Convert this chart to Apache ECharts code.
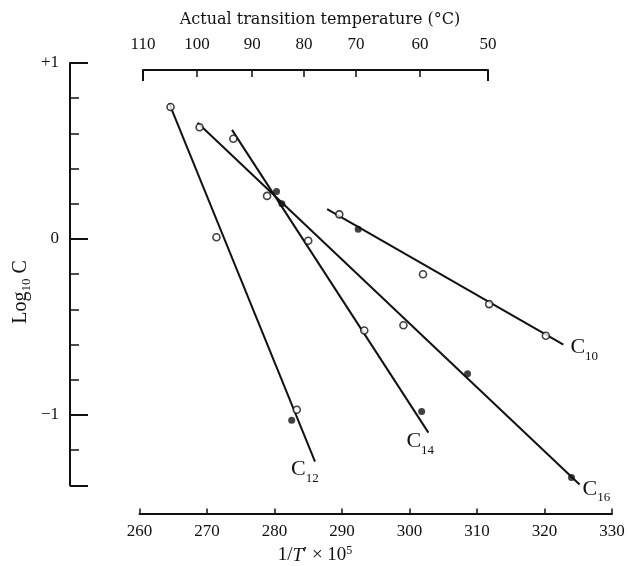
<!DOCTYPE html>
<html>
<head>
<meta charset="utf-8">
<title>Log C against 1/T'</title>
<script src="https://cdn.jsdelivr.net/npm/echarts@6/dist/echarts.min.js"></script>
<style>
  html, body { margin: 0; padding: 0; background: #fff; }
  #chart { width: 641px; height: 566px; }
</style>
</head>
<body>
<div id="chart"></div>
<script>
// x = 1/T' x 10^5, y = log10 C
var c10Open   = [[289.6, 0.14], [302.0, -0.20], [311.8, -0.37], [320.2, -0.55]];
var c10Filled = [[292.4, 0.055]];
var c10Fit    = [[287.8, 0.17], [322.8, -0.60]];

var c12Open   = [[264.6, 0.75], [271.4, 0.01], [283.3, -0.97]];
var c12Filled = [[282.55, -1.03]];
var c12Fit    = [[264.4, 0.77], [286.0, -1.265]];

var c14Open   = [[273.9, 0.57], [285.0, -0.01], [293.3, -0.52]];
var c14Filled = [[280.3, 0.27], [301.8, -0.98]];
var c14Fit    = [[273.7, 0.62], [302.8, -1.10]];

var c16Open   = [[268.9, 0.635], [278.9, 0.245], [299.1, -0.49]];
var c16Filled = [[281.1, 0.20], [308.6, -0.765], [324.0, -1.355]];
var c16Fit    = [[268.6, 0.66], [325.2, -1.395]];

// top scale: actual transition temperature, placed on the 1/T' scale
var topTempLabels = ['110', '100', '90', '80', '70', '60', '50'];
var topTempPos    = [260.5, 268.5, 276.7, 284.4, 292.1, 301.6, 311.7];

var yLabelValues = [1, 0, -1];
var yLabelText   = ['+1', '0', '\u22121'];

var serif = '"Liberation Serif", "DejaVu Serif", serif';
var wideSerif = '"DejaVu Serif", "Liberation Serif", serif';
var ink = '#111';

var chart = echarts.init(document.getElementById('chart'));

var curveRich = {
    c: { fontFamily: serif, fontSize: 22, color: ink, verticalAlign: 'bottom', padding: [0, 0, 4, 0] },
    s: { fontFamily: serif, fontSize: 13, color: ink, verticalAlign: 'bottom' }
};

function fitLine(name, data, sub, offset) {
    return {
        name: name,
        type: 'line',
        xAxisIndex: 0,
        yAxisIndex: 0,
        data: data,
        symbol: 'none',
        silent: true,
        lineStyle: { color: ink, width: 2 },
        endLabel: {
            show: true,
            formatter: '{c|C}{s|' + sub + '}',
            offset: offset,
            rich: curveRich
        },
        z: 2
    };
}

var option = {
    animation: false,
    backgroundColor: '#fff',
    grid: [
        { left: 139.5, right: 29, top: 63, bottom: 80.6 },
        { left: 143, width: 345, top: 70, height: 6 }
    ],
    xAxis: [
        {
            gridIndex: 0,
            type: 'value',
            position: 'bottom',
            min: 260,
            max: 330,
            interval: 10,
            offset: 28,
            axisLine: { onZero: false, lineStyle: { color: ink, width: 2 } },
            axisTick: { inside: true, length: 5, lineStyle: { color: ink, width: 1.5 } },
            axisLabel: { color: ink, fontFamily: serif, fontSize: 17, margin: 10 },
            splitLine: { show: false }
        },
        {
            gridIndex: 1,
            type: 'value',
            position: 'top',
            min: topTempPos[0],
            max: topTempPos[topTempPos.length - 1],
            axisLine: { onZero: false, lineStyle: { color: ink, width: 2 } },
            axisTick: {
                inside: true, length: 7, customValues: topTempPos,
                lineStyle: { color: ink, width: 1.5 }
            },
            axisLabel: {
                color: ink, fontFamily: serif, fontSize: 17, margin: 17,
                customValues: topTempPos,
                formatter: function (v) {
                    var i = topTempPos.indexOf(v);
                    return i >= 0 ? topTempLabels[i] : '';
                }
            },
            splitLine: { show: false }
        },
        {
            // longer end ticks of the top bracket
            gridIndex: 1,
            type: 'value',
            position: 'top',
            min: topTempPos[0],
            max: topTempPos[topTempPos.length - 1],
            axisLine: { show: false, onZero: false },
            axisTick: {
                inside: true, length: 11,
                customValues: [topTempPos[0], topTempPos[topTempPos.length - 1]],
                lineStyle: { color: ink, width: 2 }
            },
            axisLabel: { show: false },
            splitLine: { show: false }
        }
    ],
    yAxis: [
        {
            gridIndex: 0,
            type: 'value',
            position: 'left',
            min: -1.4,
            max: 1,
            interval: 0.2,
            offset: 69.5,
            axisLine: { show: true, onZero: false, lineStyle: { color: ink, width: 2 } },
            axisTick: { show: true, inside: true, length: 9, lineStyle: { color: ink, width: 1.5 } },
            axisLabel: {
                color: ink, fontFamily: serif, fontSize: 17, margin: 11,
                customValues: yLabelValues,
                formatter: function (v) {
                    var i = yLabelValues.indexOf(Math.round(v * 10) / 10);
                    return i >= 0 ? yLabelText[i] : '';
                }
            },
            splitLine: { show: false }
        },
        {
            // long ticks at +1, 0, -1 and the bottom end
            gridIndex: 0,
            type: 'value',
            position: 'left',
            min: -1.4,
            max: 1,
            offset: 69.5,
            axisLine: { show: false, onZero: false },
            axisTick: {
                show: true, inside: true, length: 18,
                customValues: [1, 0, -1, -1.4],
                lineStyle: { color: ink, width: 2 }
            },
            axisLabel: { show: false },
            splitLine: { show: false }
        },
        {
            gridIndex: 1,
            type: 'value',
            show: false
        }
    ],
    graphic: [
        {
            type: 'text', x: 320, y: 20,
            style: {
                text: 'Actual transition temperature (\u00b0C)',
                font: '16px ' + wideSerif, fill: ink,
                align: 'center', verticalAlign: 'middle'
            }
        },
        {
            type: 'text', x: 22, y: 292, rotation: Math.PI / 2,
            style: {
                text: '{a|Log}{b|10}{a| C}',
                fill: ink, align: 'center', verticalAlign: 'middle',
                rich: {
                    a: { fontFamily: serif, fontSize: 20, color: ink, verticalAlign: 'bottom', padding: [0, 0, 3, 0] },
                    b: { fontFamily: serif, fontSize: 13, color: ink, verticalAlign: 'bottom' }
                }
            }
        },
        {
            type: 'text', x: 315, y: 555,
            style: {
                text: '{a|1/}{i|T}{a|\u2032 \u00d7 10}{b|5}',
                fill: ink, align: 'center', verticalAlign: 'middle',
                rich: {
                    a: { fontFamily: serif, fontSize: 19, color: ink, verticalAlign: 'bottom' },
                    i: { fontFamily: serif, fontSize: 19, fontStyle: 'italic', color: ink, verticalAlign: 'bottom' },
                    b: { fontFamily: serif, fontSize: 12, color: ink, verticalAlign: 'bottom', padding: [0, 0, 8, 0] }
                }
            }
        }
    ],
    series: [
        fitLine('C10', c10Fit, '10', [-1, 5]),
        fitLine('C12', c12Fit, '12', [-32, 10]),
        fitLine('C14', c14Fit, '14', [-30, 11]),
        fitLine('C16', c16Fit, '16', [-5, 7]),
        {
            name: 'open',
            type: 'scatter',
            xAxisIndex: 0,
            yAxisIndex: 0,
            data: c10Open.concat(c12Open, c14Open, c16Open),
            symbol: 'circle',
            symbolSize: 7,
            itemStyle: { color: '#fff', borderColor: ink, borderWidth: 1.6 },
            z: 3
        },
        {
            name: 'filled',
            type: 'scatter',
            xAxisIndex: 0,
            yAxisIndex: 0,
            data: c10Filled.concat(c12Filled, c14Filled, c16Filled),
            symbol: 'circle',
            symbolSize: 7,
            itemStyle: { color: ink },
            z: 3
        }
    ]
};

chart.setOption(option);
</script>
</body>
</html>
